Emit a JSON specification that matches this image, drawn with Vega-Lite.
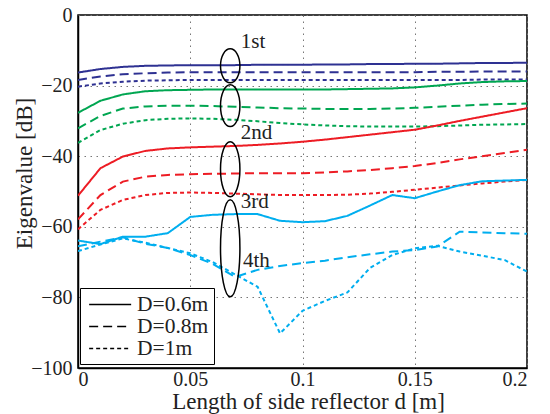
{
 "$schema": "https://vega.github.io/schema/vega-lite/v6.json",
 "width": 449, "height": 353,
 "autosize": {"type": "none"},
 "padding": {"left": 78, "top": 15, "right": 23, "bottom": 46},
 "background": "white",
 "config": {
  "font": "Liberation Serif",
  "view": {"stroke": "black", "strokeWidth": 1.5},
  "axis": {"labelFont": "Liberation Serif", "titleFont": "Liberation Serif", "labelFontSize": 20, "titleFontSize": 23, "titleFontWeight": "normal", "labelColor": "#222", "titleColor": "#222", "domainColor": "black", "domainWidth": 1.5, "gridColor": "#777", "gridDash": [1.5, 4.5], "gridWidth": 1, "ticks": false}
 },
 "datasets": {
  "curves": [
   {"d":0,"ev":-16.3,"o":"1st","D":"D=0.6m"},{"d":0.01,"ev":-15.3,"o":"1st","D":"D=0.6m"},{"d":0.02,"ev":-14.7,"o":"1st","D":"D=0.6m"},{"d":0.03,"ev":-14.4,"o":"1st","D":"D=0.6m"},{"d":0.04,"ev":-14.3,"o":"1st","D":"D=0.6m"},{"d":0.05,"ev":-14.2,"o":"1st","D":"D=0.6m"},{"d":0.06,"ev":-14.2,"o":"1st","D":"D=0.6m"},{"d":0.07,"ev":-14.2,"o":"1st","D":"D=0.6m"},{"d":0.08,"ev":-14.1,"o":"1st","D":"D=0.6m"},{"d":0.09,"ev":-14.1,"o":"1st","D":"D=0.6m"},{"d":0.1,"ev":-14.1,"o":"1st","D":"D=0.6m"},{"d":0.11,"ev":-14.0,"o":"1st","D":"D=0.6m"},{"d":0.12,"ev":-14.0,"o":"1st","D":"D=0.6m"},{"d":0.13,"ev":-13.9,"o":"1st","D":"D=0.6m"},{"d":0.14,"ev":-13.9,"o":"1st","D":"D=0.6m"},{"d":0.15,"ev":-13.8,"o":"1st","D":"D=0.6m"},{"d":0.16,"ev":-13.8,"o":"1st","D":"D=0.6m"},{"d":0.17,"ev":-13.7,"o":"1st","D":"D=0.6m"},{"d":0.18,"ev":-13.6,"o":"1st","D":"D=0.6m"},{"d":0.19,"ev":-13.6,"o":"1st","D":"D=0.6m"},{"d":0.2,"ev":-13.5,"o":"1st","D":"D=0.6m"},
   {"d":0,"ev":-18.4,"o":"1st","D":"D=0.8m"},{"d":0.01,"ev":-17.4,"o":"1st","D":"D=0.8m"},{"d":0.02,"ev":-16.8,"o":"1st","D":"D=0.8m"},{"d":0.03,"ev":-16.5,"o":"1st","D":"D=0.8m"},{"d":0.04,"ev":-16.3,"o":"1st","D":"D=0.8m"},{"d":0.05,"ev":-16.2,"o":"1st","D":"D=0.8m"},{"d":0.06,"ev":-16.2,"o":"1st","D":"D=0.8m"},{"d":0.07,"ev":-16.2,"o":"1st","D":"D=0.8m"},{"d":0.08,"ev":-16.2,"o":"1st","D":"D=0.8m"},{"d":0.09,"ev":-16.2,"o":"1st","D":"D=0.8m"},{"d":0.1,"ev":-16.2,"o":"1st","D":"D=0.8m"},{"d":0.11,"ev":-16.2,"o":"1st","D":"D=0.8m"},{"d":0.12,"ev":-16.2,"o":"1st","D":"D=0.8m"},{"d":0.13,"ev":-16.2,"o":"1st","D":"D=0.8m"},{"d":0.14,"ev":-16.2,"o":"1st","D":"D=0.8m"},{"d":0.15,"ev":-16.2,"o":"1st","D":"D=0.8m"},{"d":0.16,"ev":-16.1,"o":"1st","D":"D=0.8m"},{"d":0.17,"ev":-16.1,"o":"1st","D":"D=0.8m"},{"d":0.18,"ev":-16.0,"o":"1st","D":"D=0.8m"},{"d":0.19,"ev":-16.0,"o":"1st","D":"D=0.8m"},{"d":0.2,"ev":-16.0,"o":"1st","D":"D=0.8m"},
   {"d":0,"ev":-20.3,"o":"1st","D":"D=1m"},{"d":0.01,"ev":-19.4,"o":"1st","D":"D=1m"},{"d":0.02,"ev":-18.9,"o":"1st","D":"D=1m"},{"d":0.03,"ev":-18.6,"o":"1st","D":"D=1m"},{"d":0.04,"ev":-18.5,"o":"1st","D":"D=1m"},{"d":0.05,"ev":-18.4,"o":"1st","D":"D=1m"},{"d":0.06,"ev":-18.4,"o":"1st","D":"D=1m"},{"d":0.07,"ev":-18.4,"o":"1st","D":"D=1m"},{"d":0.08,"ev":-18.4,"o":"1st","D":"D=1m"},{"d":0.09,"ev":-18.4,"o":"1st","D":"D=1m"},{"d":0.1,"ev":-18.4,"o":"1st","D":"D=1m"},{"d":0.11,"ev":-18.4,"o":"1st","D":"D=1m"},{"d":0.12,"ev":-18.4,"o":"1st","D":"D=1m"},{"d":0.13,"ev":-18.4,"o":"1st","D":"D=1m"},{"d":0.14,"ev":-18.4,"o":"1st","D":"D=1m"},{"d":0.15,"ev":-18.4,"o":"1st","D":"D=1m"},{"d":0.16,"ev":-18.4,"o":"1st","D":"D=1m"},{"d":0.17,"ev":-18.4,"o":"1st","D":"D=1m"},{"d":0.18,"ev":-18.3,"o":"1st","D":"D=1m"},{"d":0.19,"ev":-18.3,"o":"1st","D":"D=1m"},{"d":0.2,"ev":-18.3,"o":"1st","D":"D=1m"},
   {"d":0,"ev":-27.7,"o":"2nd","D":"D=0.6m"},{"d":0.01,"ev":-24.3,"o":"2nd","D":"D=0.6m"},{"d":0.02,"ev":-22.5,"o":"2nd","D":"D=0.6m"},{"d":0.03,"ev":-21.6,"o":"2nd","D":"D=0.6m"},{"d":0.04,"ev":-21.3,"o":"2nd","D":"D=0.6m"},{"d":0.05,"ev":-21.2,"o":"2nd","D":"D=0.6m"},{"d":0.06,"ev":-21.1,"o":"2nd","D":"D=0.6m"},{"d":0.07,"ev":-21.1,"o":"2nd","D":"D=0.6m"},{"d":0.08,"ev":-21.1,"o":"2nd","D":"D=0.6m"},{"d":0.09,"ev":-21.1,"o":"2nd","D":"D=0.6m"},{"d":0.1,"ev":-21.1,"o":"2nd","D":"D=0.6m"},{"d":0.11,"ev":-21.1,"o":"2nd","D":"D=0.6m"},{"d":0.12,"ev":-21.0,"o":"2nd","D":"D=0.6m"},{"d":0.13,"ev":-20.9,"o":"2nd","D":"D=0.6m"},{"d":0.14,"ev":-20.8,"o":"2nd","D":"D=0.6m"},{"d":0.15,"ev":-20.5,"o":"2nd","D":"D=0.6m"},{"d":0.16,"ev":-20.0,"o":"2nd","D":"D=0.6m"},{"d":0.17,"ev":-19.4,"o":"2nd","D":"D=0.6m"},{"d":0.18,"ev":-19.0,"o":"2nd","D":"D=0.6m"},{"d":0.19,"ev":-18.8,"o":"2nd","D":"D=0.6m"},{"d":0.2,"ev":-18.7,"o":"2nd","D":"D=0.6m"},
   {"d":0,"ev":-32.1,"o":"2nd","D":"D=0.8m"},{"d":0.01,"ev":-28.6,"o":"2nd","D":"D=0.8m"},{"d":0.02,"ev":-26.5,"o":"2nd","D":"D=0.8m"},{"d":0.03,"ev":-25.9,"o":"2nd","D":"D=0.8m"},{"d":0.04,"ev":-25.7,"o":"2nd","D":"D=0.8m"},{"d":0.05,"ev":-25.7,"o":"2nd","D":"D=0.8m"},{"d":0.06,"ev":-25.8,"o":"2nd","D":"D=0.8m"},{"d":0.07,"ev":-26.0,"o":"2nd","D":"D=0.8m"},{"d":0.08,"ev":-26.2,"o":"2nd","D":"D=0.8m"},{"d":0.09,"ev":-26.4,"o":"2nd","D":"D=0.8m"},{"d":0.1,"ev":-26.5,"o":"2nd","D":"D=0.8m"},{"d":0.11,"ev":-26.6,"o":"2nd","D":"D=0.8m"},{"d":0.12,"ev":-26.6,"o":"2nd","D":"D=0.8m"},{"d":0.13,"ev":-26.6,"o":"2nd","D":"D=0.8m"},{"d":0.14,"ev":-26.5,"o":"2nd","D":"D=0.8m"},{"d":0.15,"ev":-26.3,"o":"2nd","D":"D=0.8m"},{"d":0.16,"ev":-26.0,"o":"2nd","D":"D=0.8m"},{"d":0.17,"ev":-25.7,"o":"2nd","D":"D=0.8m"},{"d":0.18,"ev":-25.4,"o":"2nd","D":"D=0.8m"},{"d":0.19,"ev":-25.2,"o":"2nd","D":"D=0.8m"},{"d":0.2,"ev":-25.1,"o":"2nd","D":"D=0.8m"},
   {"d":0,"ev":-36.2,"o":"2nd","D":"D=1m"},{"d":0.01,"ev":-32.6,"o":"2nd","D":"D=1m"},{"d":0.02,"ev":-30.8,"o":"2nd","D":"D=1m"},{"d":0.03,"ev":-29.8,"o":"2nd","D":"D=1m"},{"d":0.04,"ev":-29.4,"o":"2nd","D":"D=1m"},{"d":0.05,"ev":-29.3,"o":"2nd","D":"D=1m"},{"d":0.06,"ev":-29.4,"o":"2nd","D":"D=1m"},{"d":0.07,"ev":-29.7,"o":"2nd","D":"D=1m"},{"d":0.08,"ev":-30.1,"o":"2nd","D":"D=1m"},{"d":0.09,"ev":-30.6,"o":"2nd","D":"D=1m"},{"d":0.1,"ev":-31.0,"o":"2nd","D":"D=1m"},{"d":0.11,"ev":-31.3,"o":"2nd","D":"D=1m"},{"d":0.12,"ev":-31.5,"o":"2nd","D":"D=1m"},{"d":0.13,"ev":-31.6,"o":"2nd","D":"D=1m"},{"d":0.14,"ev":-31.6,"o":"2nd","D":"D=1m"},{"d":0.15,"ev":-31.6,"o":"2nd","D":"D=1m"},{"d":0.16,"ev":-31.5,"o":"2nd","D":"D=1m"},{"d":0.17,"ev":-31.3,"o":"2nd","D":"D=1m"},{"d":0.18,"ev":-31.1,"o":"2nd","D":"D=1m"},{"d":0.19,"ev":-31.0,"o":"2nd","D":"D=1m"},{"d":0.2,"ev":-30.9,"o":"2nd","D":"D=1m"},
   {"d":0,"ev":-51.2,"o":"3rd","D":"D=0.6m"},{"d":0.01,"ev":-43.4,"o":"3rd","D":"D=0.6m"},{"d":0.02,"ev":-40.1,"o":"3rd","D":"D=0.6m"},{"d":0.03,"ev":-38.5,"o":"3rd","D":"D=0.6m"},{"d":0.04,"ev":-37.8,"o":"3rd","D":"D=0.6m"},{"d":0.05,"ev":-37.5,"o":"3rd","D":"D=0.6m"},{"d":0.06,"ev":-37.3,"o":"3rd","D":"D=0.6m"},{"d":0.07,"ev":-37.1,"o":"3rd","D":"D=0.6m"},{"d":0.08,"ev":-36.8,"o":"3rd","D":"D=0.6m"},{"d":0.09,"ev":-36.4,"o":"3rd","D":"D=0.6m"},{"d":0.1,"ev":-35.9,"o":"3rd","D":"D=0.6m"},{"d":0.11,"ev":-35.3,"o":"3rd","D":"D=0.6m"},{"d":0.12,"ev":-34.6,"o":"3rd","D":"D=0.6m"},{"d":0.13,"ev":-33.9,"o":"3rd","D":"D=0.6m"},{"d":0.14,"ev":-33.2,"o":"3rd","D":"D=0.6m"},{"d":0.15,"ev":-32.5,"o":"3rd","D":"D=0.6m"},{"d":0.16,"ev":-31.3,"o":"3rd","D":"D=0.6m"},{"d":0.17,"ev":-30.0,"o":"3rd","D":"D=0.6m"},{"d":0.18,"ev":-28.8,"o":"3rd","D":"D=0.6m"},{"d":0.19,"ev":-27.6,"o":"3rd","D":"D=0.6m"},{"d":0.2,"ev":-26.4,"o":"3rd","D":"D=0.6m"},
   {"d":0,"ev":-57.9,"o":"3rd","D":"D=0.8m"},{"d":0.01,"ev":-51.0,"o":"3rd","D":"D=0.8m"},{"d":0.02,"ev":-47.2,"o":"3rd","D":"D=0.8m"},{"d":0.03,"ev":-45.8,"o":"3rd","D":"D=0.8m"},{"d":0.04,"ev":-45.3,"o":"3rd","D":"D=0.8m"},{"d":0.05,"ev":-45.1,"o":"3rd","D":"D=0.8m"},{"d":0.06,"ev":-45.0,"o":"3rd","D":"D=0.8m"},{"d":0.07,"ev":-44.9,"o":"3rd","D":"D=0.8m"},{"d":0.08,"ev":-44.8,"o":"3rd","D":"D=0.8m"},{"d":0.09,"ev":-44.8,"o":"3rd","D":"D=0.8m"},{"d":0.1,"ev":-44.8,"o":"3rd","D":"D=0.8m"},{"d":0.11,"ev":-44.6,"o":"3rd","D":"D=0.8m"},{"d":0.12,"ev":-44.3,"o":"3rd","D":"D=0.8m"},{"d":0.13,"ev":-43.9,"o":"3rd","D":"D=0.8m"},{"d":0.14,"ev":-43.4,"o":"3rd","D":"D=0.8m"},{"d":0.15,"ev":-42.8,"o":"3rd","D":"D=0.8m"},{"d":0.16,"ev":-41.9,"o":"3rd","D":"D=0.8m"},{"d":0.17,"ev":-40.9,"o":"3rd","D":"D=0.8m"},{"d":0.18,"ev":-40.0,"o":"3rd","D":"D=0.8m"},{"d":0.19,"ev":-39.1,"o":"3rd","D":"D=0.8m"},{"d":0.2,"ev":-38.2,"o":"3rd","D":"D=0.8m"},
   {"d":0,"ev":-60.7,"o":"3rd","D":"D=1m"},{"d":0.01,"ev":-55.2,"o":"3rd","D":"D=1m"},{"d":0.02,"ev":-52.4,"o":"3rd","D":"D=1m"},{"d":0.03,"ev":-51.0,"o":"3rd","D":"D=1m"},{"d":0.04,"ev":-50.4,"o":"3rd","D":"D=1m"},{"d":0.05,"ev":-50.3,"o":"3rd","D":"D=1m"},{"d":0.06,"ev":-50.4,"o":"3rd","D":"D=1m"},{"d":0.07,"ev":-50.6,"o":"3rd","D":"D=1m"},{"d":0.08,"ev":-50.8,"o":"3rd","D":"D=1m"},{"d":0.09,"ev":-51.0,"o":"3rd","D":"D=1m"},{"d":0.1,"ev":-51.0,"o":"3rd","D":"D=1m"},{"d":0.11,"ev":-51.0,"o":"3rd","D":"D=1m"},{"d":0.12,"ev":-50.9,"o":"3rd","D":"D=1m"},{"d":0.13,"ev":-50.6,"o":"3rd","D":"D=1m"},{"d":0.14,"ev":-50.1,"o":"3rd","D":"D=1m"},{"d":0.15,"ev":-49.5,"o":"3rd","D":"D=1m"},{"d":0.16,"ev":-48.9,"o":"3rd","D":"D=1m"},{"d":0.17,"ev":-48.3,"o":"3rd","D":"D=1m"},{"d":0.18,"ev":-47.7,"o":"3rd","D":"D=1m"},{"d":0.19,"ev":-47.2,"o":"3rd","D":"D=1m"},{"d":0.2,"ev":-46.7,"o":"3rd","D":"D=1m"},
   {"d":0,"ev":-63.9,"o":"4th","D":"D=0.6m"},{"d":0.01,"ev":-64.9,"o":"4th","D":"D=0.6m"},{"d":0.02,"ev":-62.8,"o":"4th","D":"D=0.6m"},{"d":0.03,"ev":-62.8,"o":"4th","D":"D=0.6m"},{"d":0.04,"ev":-61.8,"o":"4th","D":"D=0.6m"},{"d":0.05,"ev":-57.2,"o":"4th","D":"D=0.6m"},{"d":0.06,"ev":-56.6,"o":"4th","D":"D=0.6m"},{"d":0.07,"ev":-56.4,"o":"4th","D":"D=0.6m"},{"d":0.08,"ev":-56.4,"o":"4th","D":"D=0.6m"},{"d":0.09,"ev":-58.3,"o":"4th","D":"D=0.6m"},{"d":0.1,"ev":-58.7,"o":"4th","D":"D=0.6m"},{"d":0.11,"ev":-58.4,"o":"4th","D":"D=0.6m"},{"d":0.12,"ev":-56.9,"o":"4th","D":"D=0.6m"},{"d":0.13,"ev":-54.0,"o":"4th","D":"D=0.6m"},{"d":0.14,"ev":-51.0,"o":"4th","D":"D=0.6m"},{"d":0.15,"ev":-51.9,"o":"4th","D":"D=0.6m"},{"d":0.16,"ev":-50.0,"o":"4th","D":"D=0.6m"},{"d":0.17,"ev":-48.2,"o":"4th","D":"D=0.6m"},{"d":0.18,"ev":-47.1,"o":"4th","D":"D=0.6m"},{"d":0.19,"ev":-46.9,"o":"4th","D":"D=0.6m"},{"d":0.2,"ev":-46.7,"o":"4th","D":"D=0.6m"},
   {"d":0,"ev":-65.5,"o":"4th","D":"D=0.8m"},{"d":0.01,"ev":-64.2,"o":"4th","D":"D=0.8m"},{"d":0.02,"ev":-63.0,"o":"4th","D":"D=0.8m"},{"d":0.03,"ev":-64.8,"o":"4th","D":"D=0.8m"},{"d":0.04,"ev":-66.0,"o":"4th","D":"D=0.8m"},{"d":0.05,"ev":-68.0,"o":"4th","D":"D=0.8m"},{"d":0.06,"ev":-70.5,"o":"4th","D":"D=0.8m"},{"d":0.07,"ev":-74.2,"o":"4th","D":"D=0.8m"},{"d":0.08,"ev":-72.2,"o":"4th","D":"D=0.8m"},{"d":0.09,"ev":-71.1,"o":"4th","D":"D=0.8m"},{"d":0.1,"ev":-70.3,"o":"4th","D":"D=0.8m"},{"d":0.11,"ev":-69.6,"o":"4th","D":"D=0.8m"},{"d":0.12,"ev":-68.6,"o":"4th","D":"D=0.8m"},{"d":0.13,"ev":-67.8,"o":"4th","D":"D=0.8m"},{"d":0.14,"ev":-67.0,"o":"4th","D":"D=0.8m"},{"d":0.15,"ev":-66.6,"o":"4th","D":"D=0.8m"},{"d":0.16,"ev":-65.6,"o":"4th","D":"D=0.8m"},{"d":0.17,"ev":-61.4,"o":"4th","D":"D=0.8m"},{"d":0.18,"ev":-61.6,"o":"4th","D":"D=0.8m"},{"d":0.19,"ev":-61.8,"o":"4th","D":"D=0.8m"},{"d":0.2,"ev":-62.0,"o":"4th","D":"D=0.8m"},
   {"d":0,"ev":-66.9,"o":"4th","D":"D=1m"},{"d":0.01,"ev":-65.0,"o":"4th","D":"D=1m"},{"d":0.02,"ev":-63.3,"o":"4th","D":"D=1m"},{"d":0.03,"ev":-64.5,"o":"4th","D":"D=1m"},{"d":0.04,"ev":-66.0,"o":"4th","D":"D=1m"},{"d":0.05,"ev":-67.5,"o":"4th","D":"D=1m"},{"d":0.06,"ev":-70.0,"o":"4th","D":"D=1m"},{"d":0.07,"ev":-73.5,"o":"4th","D":"D=1m"},{"d":0.08,"ev":-77.0,"o":"4th","D":"D=1m"},{"d":0.09,"ev":-90.2,"o":"4th","D":"D=1m"},{"d":0.1,"ev":-83.8,"o":"4th","D":"D=1m"},{"d":0.11,"ev":-81.0,"o":"4th","D":"D=1m"},{"d":0.12,"ev":-78.6,"o":"4th","D":"D=1m"},{"d":0.13,"ev":-71.7,"o":"4th","D":"D=1m"},{"d":0.14,"ev":-68.0,"o":"4th","D":"D=1m"},{"d":0.15,"ev":-66.1,"o":"4th","D":"D=1m"},{"d":0.16,"ev":-65.4,"o":"4th","D":"D=1m"},{"d":0.17,"ev":-67.0,"o":"4th","D":"D=1m"},{"d":0.18,"ev":-68.2,"o":"4th","D":"D=1m"},{"d":0.19,"ev":-69.4,"o":"4th","D":"D=1m"},{"d":0.2,"ev":-72.7,"o":"4th","D":"D=1m"}
  ],
  "rings": [
   {"label": "1st", "d": 0.0678, "ev": -14.4},
   {"label": "2nd", "d": 0.0678, "ev": -25.7},
   {"label": "3rd", "d": 0.0678, "ev": -43.7},
   {"label": "4th", "d": 0.0678, "ev": -66.1}
  ],
  "labels": [
   {"label": "1st", "d": 0.0725, "ev": -7.6},
   {"label": "2nd", "d": 0.0725, "ev": -33.4},
   {"label": "3rd", "d": 0.0725, "ev": -53.1},
   {"label": "4th", "d": 0.0735, "ev": -69.7}
  ]
 },
 "layer": [
  {
   "data": {"name": "curves"},
   "mark": {"type": "line", "strokeWidth": 2, "clip": true},
   "encoding": {
    "x": {"field": "d", "type": "quantitative", "scale": {"domain": [0, 0.2], "nice": false}, "axis": {"values": [0, 0.05, 0.1, 0.15, 0.2], "format": "~g", "title": "Length of side reflector d [m]", "labelPadding": 1, "titleX": 230, "titleY": 40, "titleBaseline": "alphabetic", "titleAlign": "center"}},
    "y": {"field": "ev", "type": "quantitative", "scale": {"domain": [-100, 0], "nice": false}, "axis": {"values": [-100, -80, -60, -40, -20, 0], "format": "d", "title": "Eigenvalue [dB]", "labelPadding": 6, "titleX": -47, "titleY": 158, "titleBaseline": "alphabetic", "titleAlign": "center", "titleAngle": -90}},
    "color": {"field": "o", "type": "nominal", "scale": {"domain": ["1st", "2nd", "3rd", "4th"], "range": ["#2e3192", "#00a651", "#ed1c24", "#00aeef"]}, "legend": null},
    "strokeDash": {"field": "D", "type": "nominal", "scale": {"domain": ["D=0.6m", "D=0.8m", "D=1m"], "range": [[1, 0], [9, 5], [4, 3]]},
     "legend": {"title": null, "orient": "none", "legendX": 2, "legendY": 273, "strokeColor": "black", "fillColor": "white", "padding": 5, "labelFont": "Liberation Serif", "labelFontSize": 21.5, "labelColor": "#222", "symbolType": "M-0.7,0L3.3,0", "symbolSize": 441, "symbolStrokeWidth": 1.5, "symbolStrokeColor": "black", "rowPadding": 0, "labelOffset": 29}}
   }
  },
  {
   "data": {"name": "rings"},
   "mark": {"type": "point", "filled": false, "stroke": "black", "strokeWidth": 1.5, "size": 9409, "opacity": 1},
   "encoding": {
    "x": {"field": "d", "type": "quantitative"},
    "y": {"field": "ev", "type": "quantitative"},
    "shape": {"field": "label", "type": "nominal", "legend": null, "scale": {"domain": ["1st", "2nd", "3rd", "4th"], "range": [
     "M0.2,0 C0.2,0.1933 0.1105,0.35 0,0.35 C-0.1105,0.35 -0.2,0.1933 -0.2,0 C-0.2,-0.1933 -0.1105,-0.35 0,-0.35 C0.1105,-0.35 0.2,-0.1933 0.2,0 Z",
     "M0.2,0 C0.2,0.2375 0.1105,0.43 0,0.43 C-0.1105,0.43 -0.2,0.2375 -0.2,0 C-0.2,-0.2375 -0.1105,-0.43 0,-0.43 C0.1105,-0.43 0.2,-0.2375 0.2,0 Z",
     "M0.2,0 C0.2,0.3132 0.1105,0.567 0,0.567 C-0.1105,0.567 -0.2,0.3132 -0.2,0 C-0.2,-0.3132 -0.1105,-0.567 0,-0.567 C0.1105,-0.567 0.2,-0.3132 0.2,0 Z",
     "M0.2,0 C0.2,0.5523 0.1105,1 0,1 C-0.1105,1 -0.2,0.5523 -0.2,0 C-0.2,-0.5523 -0.1105,-1 0,-1 C0.1105,-1 0.2,-0.5523 0.2,0 Z"
    ]}}
   }
  },
  {
   "data": {"name": "labels"},
   "mark": {"type": "text", "align": "left", "baseline": "middle", "font": "Liberation Serif", "fontSize": 21, "color": "#222"},
   "encoding": {
    "x": {"field": "d", "type": "quantitative"},
    "y": {"field": "ev", "type": "quantitative"},
    "text": {"field": "label", "type": "nominal"}
   }
  }
 ]
}
